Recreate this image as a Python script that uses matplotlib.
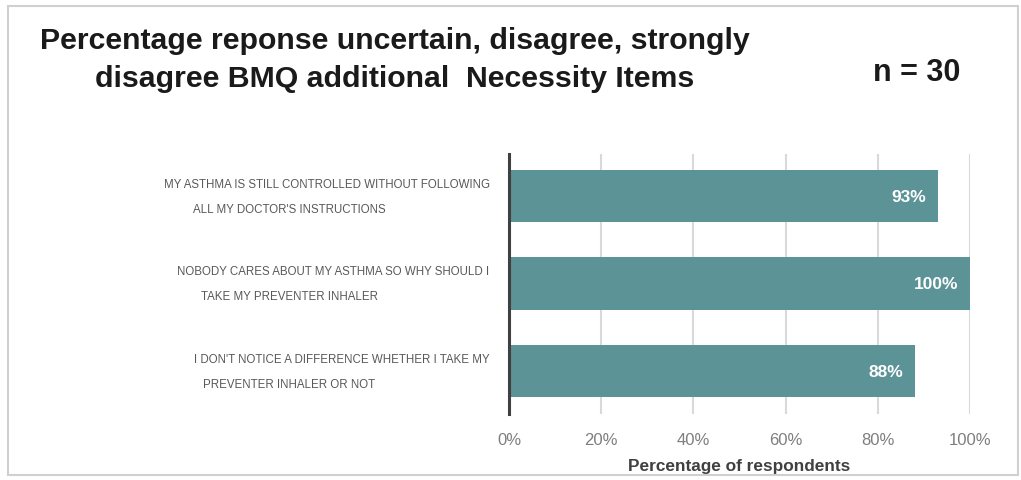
import matplotlib
matplotlib.use('Agg')
import matplotlib.pyplot as plt
from matplotlib.patches import Rectangle

# data
items_line1 = ["MY ASTHMA IS STILL CONTROLLED WITHOUT FOLLOWING",
               "NOBODY CARES ABOUT MY ASTHMA SO WHY SHOULD I",
               "I DON'T NOTICE A DIFFERENCE WHETHER I TAKE MY"]
items_line2 = ["ALL MY DOCTOR'S INSTRUCTIONS",
               "TAKE MY PREVENTER INHALER",
               "PREVENTER INHALER OR NOT"]
values = [93, 100, 88]
x_ticks = [0, 20, 40, 60, 80, 100]
x_tick_labels = ["0%", "20%", "40%", "60%", "80%", "100%"]

font = "Liberation Sans"
bar_color = '#5b9397'
label_color = '#595959'

fig = plt.figure(figsize=(10.21, 4.81), dpi=100)
W, H = 1021, 481
ax = fig.add_axes([509 / W, 1 - 415 / H, (970 - 509) / W, 260 / H])

ypos = [2, 1, 0]
ax.barh(ypos, values, height=0.6, color=bar_color, zorder=3)
ax.set_xlim(0, 100)
ax.set_ylim(-0.49, 2.48)

ax.set_xticks(x_ticks)
ax.set_xticklabels(x_tick_labels, fontfamily=font, fontsize=12, color='#7f7f7f')
ax.tick_params(axis='x', length=0, pad=13)
ax.set_yticks([])
ax.grid(axis='x', color='#d9d9d9', linewidth=1.5, zorder=0)
for s in ['top', 'right', 'bottom']:
    ax.spines[s].set_visible(False)
ax.spines['left'].set_color('#404040')
ax.spines['left'].set_linewidth(2.2)
ax.spines['left'].set_zorder(4)

ax.set_xlabel("Percentage of respondents", fontfamily=font, fontweight='bold',
              fontsize=12.4, color='#404040', labelpad=8)

# two-line category labels
for y, l1, l2 in zip(ypos, items_line1, items_line2):
    ax.annotate(l1, xy=(0, y), xytext=(-14, 9), textcoords='offset points',
                ha='right', va='center', fontfamily=font, fontsize=8.3, color=label_color)
    ax.annotate(l2, xy=(0, y), xytext=(-158, -9), textcoords='offset points',
                ha='center', va='center', fontfamily=font, fontsize=8.3, color=label_color)

# value labels inside the bars
for y, v in zip(ypos, values):
    ax.annotate(f"{v}%", xy=(v, y), xytext=(-8.5, 0), textcoords='offset points',
                ha='right', va='center', fontfamily=font, fontweight='bold',
                fontsize=12.5, color='white', zorder=5)

fig.text(395 / W, 1 - 41 / H, "Percentage reponse uncertain, disagree, strongly",
         ha='center', va='center', fontfamily=font, fontweight='bold', fontsize=21.8, color='#1a1a1a')
fig.text(395 / W, 1 - 79 / H, "disagree BMQ additional  Necessity Items",
         ha='center', va='center', fontfamily=font, fontweight='bold', fontsize=21.8, color='#1a1a1a')
fig.text(917 / W, 1 - 73 / H, "n = 30", ha='center', va='center', fontfamily=font,
         fontweight='bold', fontsize=22, color='#1a1a1a')

# light frame round the chart
fig.patches.append(Rectangle((8 / W, 1 - 476 / H), (1018 - 8) / W, (476 - 7) / H,
                             transform=fig.transFigure, fill=False,
                             edgecolor='#d0d0d0', linewidth=1.5))

fig.savefig('out.png', dpi=100)
